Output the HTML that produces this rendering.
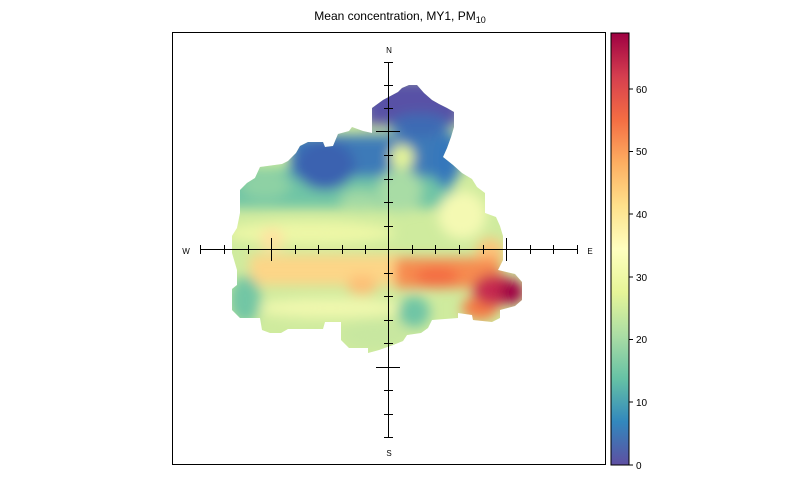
<!DOCTYPE html>
<html><head><style>body{margin:0;background:#fff}svg{display:block}</style></head><body>
<svg width="800" height="500" xmlns="http://www.w3.org/2000/svg" font-family="Liberation Sans, sans-serif">
<defs>
<clipPath id="c"><polygon points="372,108 383,100 398,92 402,88 409,85 417,85 424,93 432,100 439,104 447,108 454,112 454,127 451,137 447,148 443,157 453,165 462,173 472,179 477,187 485,193 485,213 496,217 500,226 503,236 503,260 498,270 515,274 522,282 522,300 515,306 500,310 500,318 492,322 473,320 472,315 458,313 458,318 432,320 428,328 421,333 407,335 403,341 393,345 379,350 368,353 368,348 349,348 341,340 341,322 325,322 323,329 305,329 288,329 281,333 270,333 262,330 260,318 240,318 232,310 232,289 237,285 237,270 232,253 232,236 237,228 240,213 240,190 247,183 255,178 260,167 282,164 288,161 296,153 300,146 308,142 323,142 325,147 333,146 338,134 349,131 352,127 363,131 372,133"/></clipPath>
<filter id="b" x="-30%" y="-30%" width="160%" height="160%"><feGaussianBlur stdDeviation="6"/></filter>
<linearGradient id="g" x1="0" y1="1" x2="0" y2="0">
<stop offset="0" stop-color="#5e4fa2"/><stop offset="0.1" stop-color="#3288bd"/><stop offset="0.2" stop-color="#66c2a5"/><stop offset="0.3" stop-color="#abdda4"/><stop offset="0.4" stop-color="#e6f598"/><stop offset="0.5" stop-color="#ffffbf"/><stop offset="0.6" stop-color="#fee08b"/><stop offset="0.7" stop-color="#fdae61"/><stop offset="0.8" stop-color="#f46d43"/><stop offset="0.9" stop-color="#d53e4f"/><stop offset="1" stop-color="#9e0142"/>
</linearGradient>
</defs>
<text x="400" y="20" font-size="12" text-anchor="middle">Mean concentration, MY1, PM<tspan font-size="9" dy="3">10</tspan></text>
<rect x="172.5" y="32.5" width="433" height="432" fill="none" stroke="#000"/>
<g clip-path="url(#c)">
<rect x="220" y="80" width="320" height="290" fill="#cfeb9e"/>
<g filter="url(#b)">
<rect x="225" y="168" width="230" height="40" fill="#70c5a5"/>
<ellipse cx="265" cy="185" rx="25" ry="14" fill="#8ed1a4"/>
<rect x="290" y="135" width="170" height="42" fill="#3d7ab8"/>
<ellipse cx="325" cy="165" rx="30" ry="25" fill="#3a62b0"/>
<ellipse cx="445" cy="160" rx="12" ry="28" fill="#3477bb"/>
<rect x="365" y="80" width="95" height="45" fill="#5951a6"/>
<ellipse cx="420" cy="125" rx="30" ry="12" fill="#3d6ab4"/>
<ellipse cx="400" cy="190" rx="22" ry="22" fill="#a8dca5"/>
<ellipse cx="402" cy="157" rx="12" ry="12" fill="#e6f598"/>
<ellipse cx="360" cy="200" rx="20" ry="10" fill="#a2d9a4"/>
<ellipse cx="462" cy="215" rx="24" ry="24" fill="#f4f9b2"/>
<ellipse cx="310" cy="233" rx="85" ry="12" fill="#edf7a6"/>
<ellipse cx="272" cy="240" rx="12" ry="12" fill="#fee3a0"/>
<rect x="250" y="255" width="150" height="30" fill="#fdd587"/>
<ellipse cx="362" cy="285" rx="15" ry="10" fill="#fdbf77"/>
<ellipse cx="490" cy="252" rx="14" ry="14" fill="#fdc47a"/>
<rect x="395" y="258" width="105" height="30" fill="#f68b50"/>
<ellipse cx="437" cy="277" rx="22" ry="10" fill="#f46d43"/>
<ellipse cx="480" cy="308" rx="18" ry="12" fill="#f47a45"/>
<ellipse cx="495" cy="290" rx="22" ry="16" fill="#c6294f"/>
<ellipse cx="512" cy="292" rx="12" ry="12" fill="#9e0142"/>
<ellipse cx="330" cy="308" rx="75" ry="10" fill="#f0f8ae"/>
<ellipse cx="245" cy="300" rx="16" ry="24" fill="#72c6a4"/>
<ellipse cx="414" cy="312" rx="16" ry="16" fill="#70c5a5"/>
<ellipse cx="375" cy="335" rx="35" ry="14" fill="#c8e7a0"/>
</g>
</g>
<g stroke="#000" stroke-width="1">
<line x1="200" y1="249.5" x2="578" y2="249.5"/>
<line x1="388.5" y1="62" x2="388.5" y2="437"/>
<path d="M200.5 245v9M224.5 245v9M248.5 245v9M295.5 245v9M318.5 245v9M342.5 245v9M365.5 245v9M412.5 245v9M435.5 245v9M459.5 245v9M483.5 245v9M530.5 245v9M553.5 245v9M577.5 245v9M271.5 238v23M506.5 238v23"/>
<path d="M384 62.5h9M384 85.5h9M384 108.5h9M384 155.5h9M384 179.5h9M384 202.5h9M384 226.5h9M384 273.5h9M384 296.5h9M384 320.5h9M384 343.5h9M384 390.5h9M384 414.5h9M384 437.5h9M376 131.5h24M376 367.5h24"/>
</g>
<g font-size="8" text-anchor="middle">
<text x="389" y="53">N</text><text x="389" y="456">S</text><text x="186" y="254">W</text><text x="590" y="254">E</text>
</g>
<rect x="611" y="33" width="18" height="432" fill="url(#g)" stroke="#000"/>
<g stroke="#000"><path d="M629 465h4M629 402h4M629 339.5h4M629 277h4M629 214h4M629 151.5h4M629 89h4"/></g>
<g font-size="10"><text x="636" y="469">0</text><text x="636" y="406">10</text><text x="636" y="343">20</text><text x="636" y="281">30</text><text x="636" y="218">40</text><text x="636" y="155">50</text><text x="636" y="93">60</text></g>
</svg>
</body></html>
